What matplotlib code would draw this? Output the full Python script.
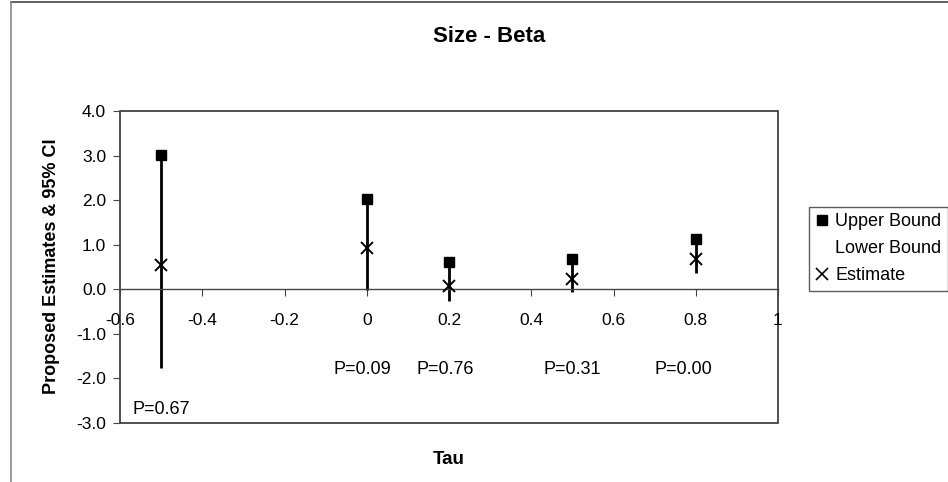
import numpy as np
import matplotlib
matplotlib.use('Agg')
import matplotlib.pyplot as plt
from matplotlib.patches import Rectangle
from matplotlib.lines import Line2D

plt.rcParams['font.family'] = ['Liberation Sans', 'DejaVu Sans']

# tau values and the estimates with their 95% bounds
tau = [-0.5, 0.0, 0.2, 0.5, 0.8]
upper = [3.02, 2.02, 0.62, 0.69, 1.13]
lower = [-1.76, -0.02, -0.27, -0.06, 0.37]
estimate = [0.55, 0.93, 0.07, 0.23, 0.69]

# p-value notes and where they go
p_text = ['P=0.67', 'P=0.09', 'P=0.76', 'P=0.31', 'P=0.00']
p_x = [-0.5, -0.01, 0.19, 0.5, 0.77]
p_y = [-2.7, -1.8, -1.8, -1.8, -1.8]

x_ticks = [-0.6, -0.4, -0.2, 0, 0.2, 0.4, 0.6, 0.8, 1]
x_ticklabels = ['-0.6', '-0.4', '-0.2', '0', '0.2', '0.4', '0.6', '0.8', '1']
y_ticks = [4, 3, 2, 1, 0, -1, -2, -3]
y_ticklabels = ['4.0', '3.0', '2.0', '1.0', '0.0', '-1.0', '-2.0', '-3.0']

fig = plt.figure(figsize=(9.48, 4.82), dpi=100)
ax = fig.add_axes([120/948, 1 - 423/482, 658/948, 312/482])

ax.set_xlim(-0.6, 1.0)
ax.set_ylim(-3.0, 4.0)

# interval lines, upper bound squares and estimate crosses
ax.vlines(tau, lower, upper, colors='black', linewidth=2, zorder=2)
ax.plot(tau, upper, linestyle='none', marker='s', markersize=7,
        color='black', zorder=3)
ax.plot(tau, estimate, linestyle='none', marker='x', markersize=9,
        markeredgewidth=1.4, color='black', zorder=3)

for t, xx, yy in zip(p_text, p_x, p_y):
    ax.text(xx, yy, t, ha='center', va='center', fontsize=13)

# x axis crosses at zero, plot area gets its own frame
for side in ['top', 'right', 'left']:
    ax.spines[side].set_visible(False)
ax.spines['bottom'].set_position(('data', 0))
ax.spines['bottom'].set_color('#444444')
ax.spines['bottom'].set_linewidth(1)
ax.add_patch(Rectangle((0, 0), 1, 1, transform=ax.transAxes, fill=False,
                       edgecolor='#333333', linewidth=1.2, clip_on=False))

ax.set_xticks(x_ticks)
ax.set_xticklabels(x_ticklabels, fontsize=12.5)
ax.set_yticks(y_ticks)
ax.set_yticklabels(y_ticklabels, fontsize=12.5)
ax.tick_params(axis='x', direction='out', length=5, pad=12, color='#444444')
ax.tick_params(axis='y', direction='out', length=5, pad=5, color='#444444')

fig.text(489/948, 1 - 37/482, 'Size - Beta', ha='center', va='center',
         fontsize=16, fontweight='bold')
fig.text(52/948, 1 - 266/482, 'Proposed Estimates & 95% CI', ha='center',
         va='center', rotation=90, fontsize=13, fontweight='bold')
fig.text(449/948, 1 - 459/482, 'Tau', ha='center', va='center',
         fontsize=13.5, fontweight='bold')

handles = [
    Line2D([], [], linestyle='none', marker='s', markersize=7, color='black'),
    Line2D([], [], linestyle='none', marker='none', color='black'),
    Line2D([], [], linestyle='none', marker='x', markersize=8,
           markeredgewidth=1.2, color='black'),
]
leg = fig.legend(handles, ['Upper Bound', 'Lower Bound', 'Estimate'],
                 loc='upper left', bbox_to_anchor=(809/948, 1 - 207/482),
                 fontsize=13, frameon=True, fancybox=False, handlelength=0.7,
                 handletextpad=0.4, borderpad=0.35, labelspacing=0.55,
                 borderaxespad=0)
leg.get_frame().set_edgecolor('#333333')
leg.get_frame().set_linewidth(1)

# outer chart border along the top and left edges
fig.add_artist(Line2D([11/948, 1], [1 - 2/482, 1 - 2/482],
                      transform=fig.transFigure, color='#444444', linewidth=1.2))
fig.add_artist(Line2D([11/948, 11/948], [0, 1 - 2/482],
                      transform=fig.transFigure, color='#888888', linewidth=1.2))

fig.savefig('out.png', dpi=100)
